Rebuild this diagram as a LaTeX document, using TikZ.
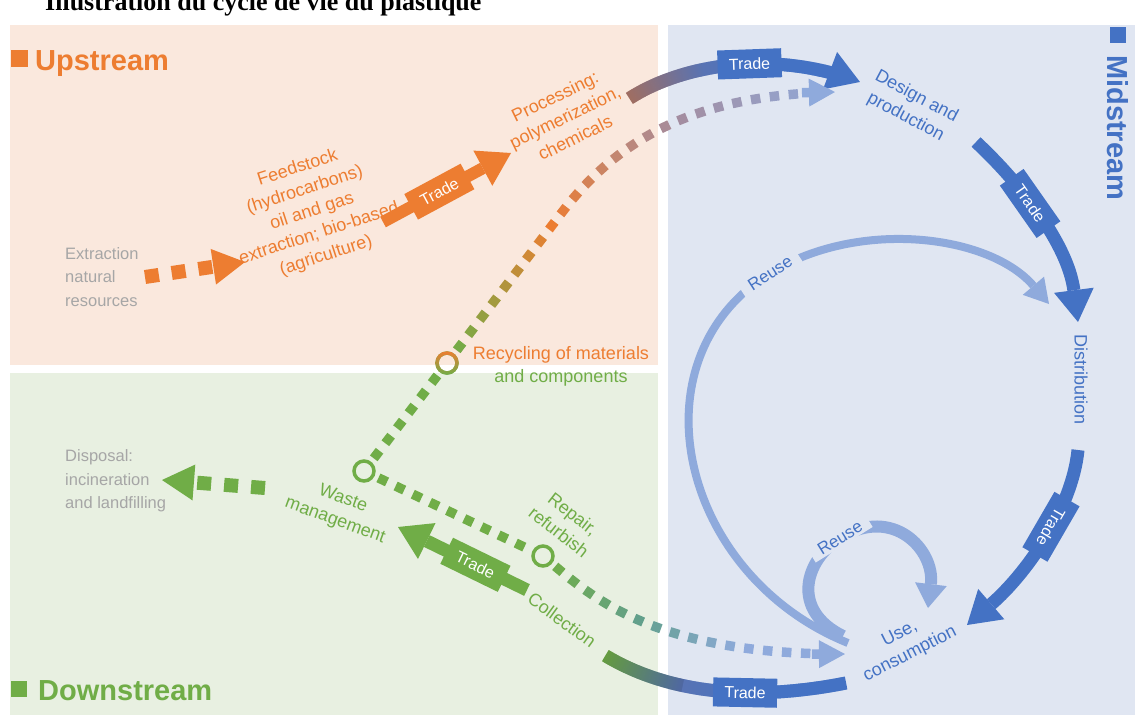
\documentclass[tikz,border=0pt]{standalone}
\usepackage{fontspec}
\setmainfont{Liberation Sans}
\newfontfamily\titlefont{Liberation Serif}
\usetikzlibrary{arrows.meta,decorations.markings}
\definecolor{upbg}{HTML}{FAE8DD}
\definecolor{downbg}{HTML}{E8F0E1}
\definecolor{midbg}{HTML}{E0E6F2}
\definecolor{cyorange}{HTML}{ED7D31}
\definecolor{cygreen}{HTML}{70AD47}
\definecolor{cyblue}{HTML}{4472C4}
\definecolor{cylight}{HTML}{8FAADC}
\definecolor{cygray}{HTML}{A6A6A6}
\definecolor{cymauve}{HTML}{A48C9E}
\definecolor{cybrown}{HTML}{A06E62}
\definecolor{cyteal}{HTML}{62A08C}
\definecolor{cyslate}{HTML}{5873B4}
\newcommand{\flowcol}[5]{%
  \pgfmathsetmacro{\flowt}{#1}%
  \ifdim\flowt pt<0.3333pt
    \pgfmathsetmacro{\flowp}{max(0,min(100,300*\flowt))}%
    \colorlet{flowc}{#3!\flowp!#2}%
  \else\ifdim\flowt pt<0.6667pt
    \pgfmathsetmacro{\flowp}{max(0,min(100,300*(\flowt-0.3333)))}%
    \colorlet{flowc}{#4!\flowp!#3}%
  \else
    \pgfmathsetmacro{\flowp}{max(0,min(100,300*(\flowt-0.6667)))}%
    \colorlet{flowc}{#5!\flowp!#4}%
  \fi\fi}
\newcommand{\sqmark}[4]{%
  \flowcol{\pgfkeysvalueof{/pgf/decoration/mark info/distance from start}/\pgfdecoratedpathlength}{#1}{#2}{#3}{#4}%
  \fill[flowc] (-4.75pt,-4.75pt) rectangle (4.75pt,4.75pt);}
\newcommand{\bandmark}[4]{%
  \flowcol{\pgfkeysvalueof{/pgf/decoration/mark info/distance from start}/\pgfdecoratedpathlength}{#1}{#2}{#3}{#4}%
  \fill[flowc] (-0.8pt,-6.5pt) rectangle (0.8pt,6.5pt);}

\begin{document}
\begin{tikzpicture}[x=1pt, y=-1pt,
  lbl/.style      = {font=\fontsize{18}{23}\selectfont, align=center,
                     inner sep=0pt, text=#1},
  greylbl/.style  = {font=\fontsize{16.5}{23.5}\selectfont, align=left,
                     inner sep=0pt, text=cygray, anchor=west},
  stagehead/.style= {font=\bfseries\fontsize{29}{29}\selectfont,
                     inner sep=0pt, anchor=base west, text=#1},
  tradebox/.style = {fill=#1, text=white, font=\fontsize{16}{16}\selectfont,
                     minimum width=64pt, minimum height=29pt, inner sep=0pt},
  band/.style     = {draw=#1, line width=13pt},
  bandtip/.style  = {-{Triangle[length=32pt, width=40pt, line width=0pt]}},
  dasharrow/.style= {draw=#1, line width=14pt, dash pattern=on 14pt off 13pt,
                     -{Triangle[length=32pt, width=36pt, line width=0pt]}},
  ring/.style     = {circle, draw=#1, line width=3.5pt, minimum size=20pt,
                     inner sep=0pt},
  reuse/.style    = {draw=cylight, line width=#1},
  reuselbl/.style = {lbl=cyblue, font=\fontsize{17}{17}\selectfont,
                     fill=midbg, inner xsep=9pt, inner ysep=2pt},
  sqline/.style n args={4}{postaction={decorate, decoration={markings, reset marks,
      mark=between positions 9pt and -6pt step 19pt with {\sqmark{#1}{#2}{#3}{#4}}}}},
  sqarrow/.style n args={4}{postaction={decorate, decoration={markings, reset marks,
      mark=between positions 9pt and -32pt step 19pt with {\sqmark{#1}{#2}{#3}{#4}}}},
    postaction={decorate, decoration={markings, reset marks,
      mark=at position -0.05pt with {\fill[#4] (0pt,0pt) -- (-26pt,14pt) -- (-26pt,4.75pt)
        -- (-33pt,4.75pt) -- (-33pt,-4.75pt) -- (-26pt,-4.75pt) -- (-26pt,-14pt) -- cycle;}}}},
  gradband/.style n args={4}{postaction={decorate, decoration={markings, reset marks,
      mark=between positions 0pt and 1 step 1pt with {\bandmark{#1}{#2}{#3}{#4}}}}},
  gradarrow/.style n args={4}{postaction={decorate, decoration={markings, reset marks,
      mark=between positions 0pt and -31pt step 1pt with {\bandmark{#1}{#2}{#3}{#4}}}},
    postaction={decorate, decoration={markings, reset marks,
      mark=at position -0.05pt with {\fill[#4] (0pt,0pt) -- (-32pt,20pt) -- (-32pt,-20pt) -- cycle;}}}},
]
\useasboundingbox (0,0) rectangle (1135,715);
\fill[upbg]   (10,25)  rectangle (658,365);
\fill[downbg] (10,373) rectangle (658,715);
\fill[midbg]  (668,25) rectangle (1135,715);

\node[font=\titlefont\bfseries\fontsize{26}{26}\selectfont, anchor=base west,
      inner sep=0pt] (title) at (45,10) {Illustration du cycle de vie du plastique};
\fill[cyorange] (11,50) rectangle (28,67);
\node[stagehead=cyorange] (upstream) at (35,70) {Upstream};
\fill[cygreen] (11,681) rectangle (27,697);
\node[stagehead=cygreen] (downstream) at (38,700) {Downstream};
\fill[cyblue] (1110,27) rectangle (1126,43);
\node[stagehead=cyblue, rotate=-90] (midstream) at (1107,55) {Midstream};

\node[greylbl] (extraction) at (65,277) {Extraction\\natural\\resources};
\node[lbl=cyorange, rotate=18] (feedstock) at (312,212)
    {Feedstock\\(hydrocarbons)\\oil and gas\\extraction; bio-based\\(agriculture)};
\node[lbl=cyorange, rotate=26] (processing) at (565,117)
    {Processing:\\polymerization,\\chemicals};
\node[lbl=cyblue, rotate=-28] (design) at (911,107) {Design and\\production};
\node[lbl=cyblue, rotate=-90] (distribution) at (1081,380) {Distribution};
\node[lbl=cyblue, rotate=27] (use) at (905,644) {Use,\\consumption};
\node[lbl=cygreen, rotate=-36] (collection) at (562,620) {Collection};
\node[lbl=cygreen, rotate=-38] (repair) at (566,523) {Repair,\\refurbish};
\node[lbl=cygreen, rotate=-20] (waste) at (339,510) {Waste\\management};
\node[greylbl] (disposal) at (65,481) {Disposal:\\incineration\\and landfilling};
\node[lbl=cyorange] (recycling) at (561,355) {Recycling of materials};
\node[lbl=cygreen] (components) at (561,378) {and components};

\coordinate (x1) at (145,277);
\coordinate (x2) at (245,262);
\draw[dasharrow=cyorange] (x1) -- (x2);
\coordinate (f1) at (383,222);
\coordinate (f2) at (511,153);
\draw[band=cyorange, bandtip, line width=12pt] (f1) -- (f2)
    node[tradebox=cyorange, sloped, pos=0.44] (tradeA) {Trade};

\coordinate (p1) at (630,98);
\coordinate (p2) at (860,82);
\path[gradarrow={cybrown}{cyslate}{cyblue}{cyblue}]
    (p1) .. controls (680,66) and (770,48) .. (p2)
    node[tradebox=cyblue, sloped, pos=0.58] (tradeB) {Trade};
\coordinate (d1) at (976,142);
\coordinate (d2) at (1078,322);
\draw[band=cyblue, bandtip] (d1) .. controls (1022,185) and (1068,245) .. (d2)
    node[tradebox=cyblue, sloped, pos=0.41] (tradeC) {Trade};
\coordinate (u1) at (1078,450);
\coordinate (u2) at (967,625);
\draw[band=cyblue, bandtip] (u1) .. controls (1072,510) and (1025,575) .. (u2)
    node[tradebox=cyblue, sloped, allow upside down, pos=0.42] (tradeD) {Trade};
\coordinate (c1) at (606,656);
\coordinate (c2) at (846,683);
\path[gradband={cygreen!90!black}{cyslate}{cyblue}{cyblue}]
    (c1) .. controls (680,700) and (770,698) .. (c2)
    node[tradebox=cyblue, sloped, pos=0.58] (tradeE) {Trade};
\coordinate (g1) at (527,590);
\coordinate (g2) at (398,527);
\draw[band=cygreen, bandtip] (g1) -- (g2)
    node[tradebox=cygreen, sloped, pos=0.4] (tradeF) {Trade};
\coordinate (w1) at (265,488);
\coordinate (w2) at (162,480);
\draw[dasharrow=cygreen] (w1) -- (w2);

\node[ring=cygreen] (wring) at (364,471) {};
\node[ring=cygreen] (pring) at (543,556) {};
\node[ring=cygreen] (rring) at (447,363) {};
\shade[top color=cyorange, bottom color=cygreen, even odd rule]
    (rring.center) circle (11.75pt) circle (8.25pt);
\path[sqline={cygreen}{cygreen}{cygreen}{cygreen}] (wring) -- (rring);
\path[sqline={cygreen}{cygreen}{cygreen}{cygreen}] (wring) -- (pring);
\coordinate (dz) at (835,92);
\path[sqarrow={cygreen}{cyorange}{cymauve}{cylight}]
    (rring) -- (560,215) .. controls (620,135) and (700,95) .. (dz);
\coordinate (uz) at (845,654);
\path[sqarrow={cygreen}{cyteal}{cylight}{cylight}]
    (pring) .. controls (595,600) and (660,655) .. (uz);

\coordinate (ra) at (848,643);
\coordinate (rb) at (1049,304);
\draw[reuse=8pt, -{Triangle[length=24pt, width=28pt, line width=0pt]}]
    (ra) .. controls (680,575) and (630,360) .. (770,273)
    node[reuselbl, rotate=33] (reuseA) {Reuse}
    .. controls (860,218) and (990,235) .. (rb);
\coordinate (sa) at (843,636);
\coordinate (sb) at (928,608);
\draw[reuse=12pt, -{Triangle[length=24pt, width=32pt, line width=0pt]}]
    (sa) .. controls (790,610) and (805,560) .. (840,538)
    node[reuselbl, rotate=32] (reuseB) {Reuse}
    .. controls (893,505) and (935,550) .. (sb);
\end{tikzpicture}
\end{document}
